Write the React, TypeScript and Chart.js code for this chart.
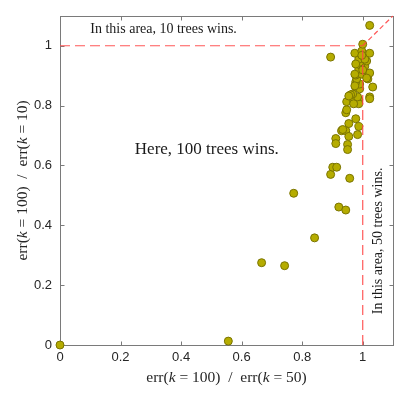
import React, { useEffect, useRef } from 'react';
import { Chart, registerables } from 'chart.js';

Chart.register(...registerables);

// ---- data ----
const ERR_RATIO_50: number[] = [
  0.000, 0.556, 0.666, 0.742, 0.772, 0.841, 0.894, 0.894, 0.901, 0.914,
  0.957, 0.921, 0.944, 0.911, 0.911, 0.950, 0.950, 0.930, 0.944, 0.954,
  0.983, 0.934, 0.954, 0.987, 0.977, 0.944, 0.947, 0.947, 0.970, 0.987,
  0.987, 0.983, 0.967, 0.960, 1.023, 1.023, 0.977, 0.990, 1.033, 0.990,
  0.977, 0.980, 1.017, 0.977, 0.997, 1.023, 0.987, 1.007, 0.993, 0.990,
  1.013, 0.987, 1.007, 0.974, 0.997, 1.023, 1.000, 1.023, 0.974, 1.013,
  0.974, 0.970, 0.954, 0.997, 0.977, 1.000,
];
const ERR_RATIO_10: number[] = [
  0.000, 0.013, 0.275, 0.265, 0.507, 0.358, 0.962, 0.570, 0.594, 0.594,
  0.557, 0.461, 0.451, 0.690, 0.673, 0.670, 0.653, 0.716, 0.716, 0.697,
  0.703, 0.720, 0.740, 0.730, 0.756, 0.776, 0.786, 0.813, 0.813, 0.819,
  0.806, 0.829, 0.839, 0.836, 0.829, 0.823, 0.862, 0.856, 0.862, 0.872,
  0.879, 0.889, 0.889, 0.902, 0.905, 0.909, 0.922, 0.932, 0.935, 0.945,
  0.949, 0.955, 0.955, 0.975, 0.982, 0.975, 1.005, 1.068, 0.905, 0.892,
  0.866, 0.806, 0.832, 0.968, 0.939, 0.919,
];
const X_TICKS: number[] = [0, 0.2, 0.4, 0.6, 0.8, 1];
const Y_TICKS: number[] = [0, 0.2, 0.4, 0.6, 0.8, 1];
const AXIS_MIN = 0;
const AXIS_MAX = 1.1;
const THRESHOLD = 1;

type Part = [string, boolean];
const X_TITLE: Part[] = [['err(', false], ['k', true], [' = 100)  /  err(', false], ['k', true], [' = 50)', false]];
const Y_TITLE: Part[] = [['err(', false], ['k', true], [' = 100)  /  err(', false], ['k', true], [' = 10)', false]];
const NOTE_TOP = 'In this area, 10 trees wins.';
const NOTE_CENTER = 'Here, 100 trees wins.';
const NOTE_RIGHT = 'In this area, 50 trees wins.';

const SERIF = '"Liberation Serif", "DejaVu Serif", serif';
const SANS = '"Liberation Sans", Arial, sans-serif';
const AXIS_COLOR = '#7a7a7a';
const TEXT_COLOR = '#262626';
const LINE_COLOR = 'rgba(255, 70, 70, 0.9)';

function drawRich(ctx: CanvasRenderingContext2D, parts: Part[], size: number, x: number, y: number) {
  const fontOf = (it: boolean) => `${it ? 'italic ' : ''}${size}px ${SERIF}`;
  let total = 0;
  for (const [t, it] of parts) {
    ctx.font = fontOf(it);
    total += ctx.measureText(t).width;
  }
  let cx = x - total / 2;
  ctx.textAlign = 'left';
  for (const [t, it] of parts) {
    ctx.font = fontOf(it);
    ctx.fillText(t, cx, y);
    cx += ctx.measureText(t).width;
  }
}

const framePlugin = {
  id: 'frame',
  beforeDatasetsDraw(chart: any) {
    const { ctx, chartArea: a, scales } = chart;
    const xs = scales.x;
    const ys = scales.y;
    ctx.save();
    ctx.strokeStyle = AXIS_COLOR;
    ctx.lineWidth = 1;
    const l = Math.round(a.left) + 0.5;
    const r = Math.round(a.right) + 0.5;
    const t = Math.round(a.top) + 0.5;
    const b = Math.round(a.bottom) + 0.5;
    ctx.strokeRect(l, t, r - l, b - t);
    const TL = 4;
    ctx.beginPath();
    for (const v of X_TICKS) {
      const px = Math.round(xs.getPixelForValue(v)) + 0.5;
      ctx.moveTo(px, b); ctx.lineTo(px, b - TL);
      ctx.moveTo(px, t); ctx.lineTo(px, t + TL);
    }
    for (const v of Y_TICKS) {
      const py = Math.round(ys.getPixelForValue(v)) + 0.5;
      ctx.moveTo(l, py); ctx.lineTo(l + TL, py);
      ctx.moveTo(r, py); ctx.lineTo(r - TL, py);
    }
    ctx.stroke();
    ctx.restore();
  },
  afterDraw(chart: any) {
    const { ctx, chartArea: a, scales } = chart;
    const xs = scales.x;
    const ys = scales.y;
    ctx.save();
    ctx.fillStyle = '#1a1a1a';
    ctx.textBaseline = 'alphabetic';
    ctx.font = `14px ${SERIF}`;
    ctx.textAlign = 'left';
    ctx.fillText(NOTE_TOP, xs.getPixelForValue(0.1), ys.getPixelForValue(1.041));

    ctx.font = `17px ${SERIF}`;
    ctx.textAlign = 'center';
    ctx.textBaseline = 'middle';
    ctx.fillText(NOTE_CENTER, xs.getPixelForValue(0.485), ys.getPixelForValue(0.653));

    ctx.save();
    ctx.translate(xs.getPixelForValue(1.051), ys.getPixelForValue(0.348));
    ctx.rotate(-Math.PI / 2);
    ctx.font = `14px ${SERIF}`;
    ctx.textAlign = 'center';
    ctx.textBaseline = 'middle';
    ctx.fillText(NOTE_RIGHT, 0, 0);
    ctx.restore();

    ctx.textBaseline = 'alphabetic';
    ctx.fillStyle = TEXT_COLOR;
    drawRich(ctx, X_TITLE, 15.5, (a.left + a.right) / 2, 382);
    ctx.save();
    ctx.translate(27, (a.top + a.bottom) / 2);
    ctx.rotate(-Math.PI / 2);
    drawRich(ctx, Y_TITLE, 15.5, 0, 0);
    ctx.restore();

    ctx.restore();
  },
};

export default function App() {
  const ref = useRef<HTMLCanvasElement | null>(null);
  useEffect(() => {
    if (!ref.current) return;
    const points = ERR_RATIO_50.map((x, i) => ({ x, y: ERR_RATIO_10[i] }));
    const chart = new Chart(ref.current, {
      type: 'scatter',
      data: {
        datasets: [
          {
            type: 'line',
            data: [{ x: AXIS_MIN, y: THRESHOLD }, { x: THRESHOLD, y: THRESHOLD }],
            borderColor: LINE_COLOR,
            borderWidth: 1.2,
            borderDash: [10, 5],
            pointRadius: 0,
            fill: false,
            order: 0,
          } as any,
          {
            type: 'line',
            data: [{ x: THRESHOLD, y: AXIS_MIN }, { x: THRESHOLD, y: THRESHOLD }],
            borderColor: LINE_COLOR,
            borderWidth: 1.2,
            borderDash: [10, 5],
            pointRadius: 0,
            fill: false,
            order: 0,
          } as any,
          {
            type: 'line',
            data: [{ x: THRESHOLD, y: THRESHOLD }, { x: AXIS_MAX, y: AXIS_MAX }],
            borderColor: LINE_COLOR,
            borderWidth: 1.2,
            borderDash: [5, 3],
            pointRadius: 0,
            fill: false,
            order: 0,
          } as any,
          {
            data: points,
            backgroundColor: 'rgb(181, 172, 0)',
            borderColor: 'rgb(122, 116, 0)',
            borderWidth: 1,
            pointRadius: 4,
            clip: false,
            order: 1,
          } as any,
        ],
      },
      options: {
        animation: false,
        responsive: false,
        layout: { padding: { left: 0, right: 14, top: 14, bottom: 0 } },
        plugins: { legend: { display: false }, tooltip: { enabled: false } },
        scales: {
          x: {
            type: 'linear',
            min: AXIS_MIN,
            max: AXIS_MAX,
            grid: { display: false, drawTicks: false },
            border: { display: false },
            afterBuildTicks: (s: any) => { s.ticks = X_TICKS.map((v) => ({ value: v })); },
            afterFit: (s: any) => { s.height = 52; },
            ticks: {
              padding: 5,
              color: TEXT_COLOR,
              font: { family: SANS, size: 13 },
              maxRotation: 0,
              callback: (v: any) => String(Math.round(Number(v) * 10) / 10),
            },
          },
          y: {
            type: 'linear',
            min: AXIS_MIN,
            max: AXIS_MAX,
            grid: { display: false, drawTicks: false },
            border: { display: false },
            afterBuildTicks: (s: any) => { s.ticks = Y_TICKS.map((v) => ({ value: v })); },
            afterFit: (s: any) => { s.width = 60; },
            ticks: {
              padding: 8,
              color: TEXT_COLOR,
              font: { family: SANS, size: 13 },
              callback: (v: any) => String(Math.round(Number(v) * 10) / 10),
            },
          },
        },
      },
      plugins: [framePlugin],
    });
    return () => chart.destroy();
  }, []);
  return (
    <div style={{ position: 'fixed', left: 0, top: 0, width: 407, height: 397, background: '#fff' }}>
      <canvas ref={ref} width={407} height={397} style={{ display: 'block', width: 407, height: 397 }} />
    </div>
  );
}
